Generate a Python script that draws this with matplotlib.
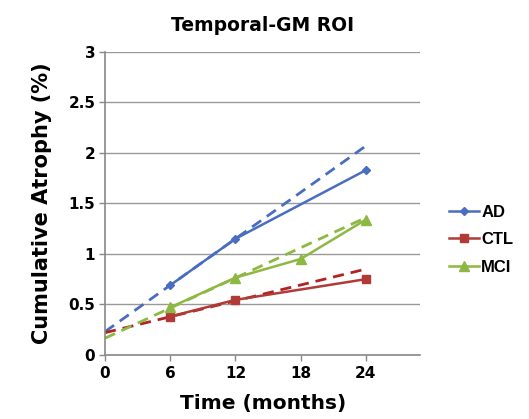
import matplotlib
matplotlib.use("Agg")
import matplotlib.pyplot as plt

plt.rcParams["font.family"] = ["DejaVu Sans"]
plt.rcParams["font.weight"] = "bold"

groups = ["AD", "CTL", "MCI"]
ad_months = [6, 12, 24]
ad_values = [0.69, 1.15, 1.83]
ctl_months = [6, 12, 24]
ctl_values = [0.38, 0.545, 0.75]
mci_months = [6, 12, 18, 24]
mci_values = [0.47, 0.765, 0.95, 1.34]

trend_months = [0, 24]
ad_trend = [0.23, 2.07]
ctl_trend = [0.22, 0.85]
mci_trend = [0.165, 1.36]

x_ticks = [0, 6, 12, 18, 24]
y_ticks = [0, 0.5, 1, 1.5, 2, 2.5, 3]
y_labels = ["0", "0.5", "1", "1.5", "2", "2.5", "3"]

fig = plt.figure(figsize=(5.29, 4.19), dpi=100)
ax = fig.add_axes([0.1985, 0.153, 0.596, 0.723])

styles = {
    "AD": dict(color="#4A6EBF", marker="D", ms=4.5, dash="#4A6EBF"),
    "CTL": dict(color="#B03A36", marker="s", ms=6, dash="#B22222"),
    "MCI": dict(color="#8DB842", marker="^", ms=6.5, dash="#8DB842"),
}
series = {
    "AD": (ad_months, ad_values, ad_trend),
    "CTL": (ctl_months, ctl_values, ctl_trend),
    "MCI": (mci_months, mci_values, mci_trend),
}

handles = []
for name in groups:
    xs, ys, trend = series[name]
    st = styles[name]
    # dashed trend line behind the measured series
    ax.plot(trend_months, trend, linestyle=(0, (4, 2.5)), color=st["dash"], lw=2.0, zorder=2)
    (h,) = ax.plot(xs, ys, color=st["color"], lw=1.8, marker=st["marker"],
                   ms=st["ms"], zorder=3, label=name)
    handles.append(h)

ax.set_xlim(0, 29)
ax.set_ylim(0, 3)
ax.set_xticks(x_ticks)
ax.set_yticks(y_ticks)
ax.set_yticklabels(y_labels)
ax.tick_params(axis="both", labelsize=11, length=4, color="#888888", width=1)
ax.tick_params(axis="y", pad=3)
ax.tick_params(axis="x", pad=4)
for lab in ax.get_xticklabels() + ax.get_yticklabels():
    lab.set_fontweight("bold")

ax.grid(axis="y", color="#999999", lw=1.0)
ax.set_axisbelow(True)
for side in ["top", "right"]:
    ax.spines[side].set_visible(False)
for side in ["left", "bottom"]:
    ax.spines[side].set_color("#888888")
    ax.spines[side].set_linewidth(1.2)

ax.set_xlabel("Time (months)", fontsize=14.5, fontweight="bold", labelpad=9)
ax.set_ylabel("Cumulative Atrophy (%)", fontsize=15, fontweight="bold", labelpad=12)
ax.set_title("Temporal-GM ROI", fontsize=13.5, fontweight="bold", pad=15)

fig.legend(handles=handles, labels=groups, loc="center left",
           bbox_to_anchor=(0.82, 0.428), frameon=False,
           handlelength=1.8, handletextpad=0.15, labelspacing=0.75,
           prop={"family": ["Liberation Sans"], "weight": "bold", "size": 12})

fig.savefig("out.png", dpi=100)
